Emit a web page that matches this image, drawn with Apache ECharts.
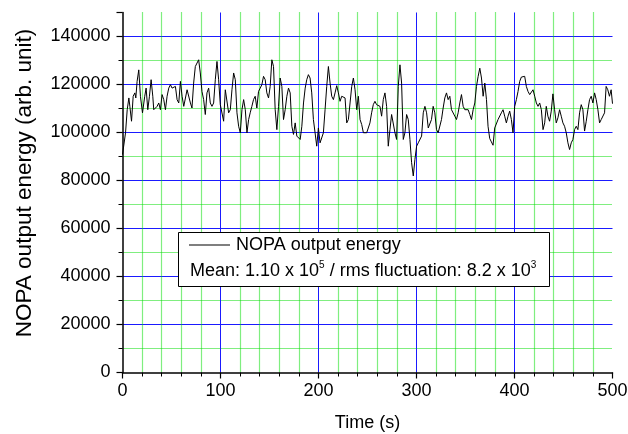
<!DOCTYPE html>
<html>
<head>
<meta charset="utf-8">
<script src="https://cdn.jsdelivr.net/npm/echarts@6/dist/echarts.min.js"></script>
<style>
html,body{margin:0;padding:0;background:#fff;}
#chart{width:628px;height:434px;}
</style>
</head>
<body>
<div id="chart"></div>
<script>
var seriesName = 'NOPA output energy';
var xTitle = 'Time (s)';
var yTitle = 'NOPA output energy (arb. unit)';
var statsText = 'Mean: 1.10 x 10{sup|5} / rms fluctuation: 8.2 x 10{sup|3}';

var time = [0,3.1,4.8,6.5,7.5,9.2,10.9,12.6,13.6,14.9,16.6,18.3,20.4,22.7,24.1,25.8,27.5,29.2,30.9,31.9,35.3,37.0,38.7,40.4,42.1,43.8,45.5,47.2,48.9,50.6,52.3,54.0,55.7,57.4,59.1,60.8,62.5,64.2,65.9,67.6,69.3,70.9,72.6,74.3,76.0,77.7,79.4,81.1,82.8,84.5,86.2,87.9,89.6,91.3,93.0,94.7,96.4,98.1,99.8,101.5,103.2,104.9,106.6,108.3,110.0,111.7,113.4,115.1,116.8,118.5,120.2,121.9,123.6,125.3,127.0,128.7,130.3,132.0,133.7,135.4,137.1,138.8,140.5,142.2,143.9,145.6,147.3,149.0,150.7,152.4,154.1,155.8,157.5,159.2,160.9,162.6,164.3,166.0,167.7,169.4,171.1,172.8,174.5,176.2,177.9,179.6,181.3,183.0,184.7,186.4,188.0,189.7,191.4,193.1,194.8,196.5,198.2,199.9,201.6,203.3,205.0,206.7,208.4,210.1,211.8,213.5,215.2,216.9,218.6,220.3,222.0,223.7,225.4,227.1,228.8,230.5,232.2,233.9,235.6,237.3,239.0,240.7,242.4,244.1,245.8,247.5,249.2,250.8,252.5,254.2,255.9,257.6,259.3,261.0,262.7,264.4,266.1,267.8,269.5,271.2,272.9,274.6,276.3,278.0,279.7,281.4,283.1,284.8,286.5,288.2,289.9,291.6,293.3,295.0,296.7,298.4,300.1,301.8,303.5,305.2,306.9,308.6,310.3,312.0,313.6,315.3,317.0,318.7,320.4,322.1,323.8,325.5,327.2,328.9,330.6,332.3,334.0,335.7,337.4,339.1,340.8,342.5,344.2,345.9,347.6,349.3,351.0,352.7,354.4,356.1,357.8,359.5,361.2,362.9,364.6,366.3,368.0,369.7,371.4,373.0,374.7,376.4,378.1,379.8,381.5,383.2,384.9,386.6,388.3,390.0,391.7,393.4,395.1,396.8,398.5,400.2,401.9,403.6,405.3,407.0,408.7,410.4,412.1,413.8,415.5,417.2,418.9,420.6,422.3,424.0,425.7,427.4,429.1,430.8,432.4,434.1,435.8,437.5,439.2,440.9,442.6,444.3,446.0,447.7,449.4,451.1,452.8,454.5,456.2,457.9,459.6,461.3,463.0,464.7,466.4,468.1,469.8,471.5,473.2,474.9,476.6,478.3,480.0,481.7,483.4,485.1,486.8,488.5,490.2,491.9,493.5,495.2,496.9,498.6,500.0];

var energy = [90800,99900,109500,114400,110900,104700,115100,116500,114400,121300,126100,115100,108200,115100,118500,109500,115100,122000,115100,109500,110900,112300,109500,115800,113700,109500,115100,118500,119900,118500,117800,119200,113700,112300,121300,115100,110900,110200,117800,117800,112300,110200,120600,127500,128200,130300,124800,117100,113700,107500,116500,118500,112300,110900,112300,122000,129600,122000,111600,111600,104700,117800,118500,108200,109500,117800,124800,122000,108200,102600,99900,109500,113700,109500,99900,105400,108200,110900,113700,115100,110200,117100,118500,119900,123400,122000,116500,114400,119200,130300,127500,109500,101200,110900,122700,119200,105400,109500,115100,118500,116500,102600,99200,104000,98500,97800,97100,102600,112300,118500,122000,124100,122700,116500,105400,99900,94300,101900,95700,95000,99900,109500,119200,127500,120600,115100,113700,116500,119500,116500,113000,115100,114400,114400,104000,105400,112300,119200,122700,117800,109500,115100,105400,103300,99900,99200,99900,99900,104000,108200,111600,113000,111600,112300,110900,106800,113700,116500,110900,94300,101200,107500,108200,99900,97100,119200,128200,120600,97100,99900,107500,105400,97100,87400,81900,88800,94300,95700,95000,98500,108200,110900,108200,101900,102600,105400,110900,108200,101200,99900,100600,105400,110200,114400,116500,113700,115100,109500,110200,106800,105400,108200,112300,115800,110900,109500,108900,109500,107500,105400,109500,112300,119200,123400,126800,122700,115100,120600,113700,102600,97500,96100,94700,101900,102600,105400,104700,108200,109500,106800,104000,106800,108900,105400,99900,110900,113700,117100,121300,123100,122700,123400,119200,117100,115800,115100,117800,115100,112300,110900,112300,109500,101200,104000,110900,106800,104700,108900,116100,109500,104000,106100,109500,106800,104000,102600,99900,95700,92900,95700,97100,101200,102600,101200,108200,111600,109500,100600,104700,109500,113700,115100,112300,116500,113700,109500,104000,105400,104700,108200,119200,117800,115100,117800,112000];

var FONT = '"Liberation Sans", Arial, Helvetica, sans-serif';
var chart = echarts.init(document.getElementById('chart'), null, {renderer: 'canvas'});

var points = time.map(function (t, i) { return [t, energy[i]]; });

function majorLine() {
  return {show: true, showMinLine: false, showMaxLine: false, lineStyle: {color: '#1a1aff', width: 1, type: 'solid'}};
}
function minorLine(w) {
  return {show: true, lineStyle: {color: '#00dd00', width: w, type: [1, 1]}};
}

chart.setOption({
  backgroundColor: '#ffffff',
  animation: false,
  grid: {left: 122.5, right: 15.5, top: 12.5, bottom: 61.5, containLabel: false, outerBoundsMode: 'none'},
  legend: {
    show: true,
    data: [{name: seriesName, icon: 'rect'}],
    left: 189,
    top: 236,
    padding: 0,
    itemWidth: 41,
    itemHeight: 1,
    z: 20,
    textStyle: {fontFamily: FONT, fontSize: 18, color: '#000', padding: [0, 0, 0, 1]}
  },
  xAxis: {
    type: 'value',
    min: 0, max: 500, interval: 100,
    name: xTitle,
    nameLocation: 'middle',
    nameGap: 42,
    nameTextStyle: {fontFamily: FONT, fontSize: 18, color: '#000'},
    axisLine: {show: true, onZero: false, lineStyle: {color: '#000', width: 1.5}},
    axisTick: {show: true, inside: false, length: 6, lineStyle: {color: '#000', width: 1.2}},
    minorTick: {show: true, splitNumber: 5, length: 4, lineStyle: {color: '#000', width: 1}},
    axisLabel: {margin: 10, fontFamily: FONT, fontSize: 18, color: '#000'},
    splitLine: majorLine(),
    minorSplitLine: minorLine(1.2)
  },
  yAxis: {
    type: 'value',
    min: 0, max: 150000, interval: 20000,
    name: yTitle,
    nameLocation: 'middle',
    nameGap: 86,
    nameTextStyle: {fontFamily: FONT, fontSize: 22.5, color: '#000', padding: [0, 0, 0, 19]},
    axisLine: {show: true, onZero: false, lineStyle: {color: '#000', width: 1.5}},
    axisTick: {show: true, inside: false, length: 6, lineStyle: {color: '#000', width: 1.2}},
    minorTick: {show: true, splitNumber: 2, length: 4, lineStyle: {color: '#000', width: 1}},
    axisLabel: {
      margin: 12, showMaxLabel: false, fontFamily: FONT, fontSize: 18, color: '#000',
      formatter: function (v) { return String(v); }
    },
    splitLine: majorLine(),
    minorSplitLine: minorLine(1)
  },
  graphic: [
    {
      type: 'rect', z: 10,
      shape: {x: 178.5, y: 232.5, width: 371, height: 54},
      style: {fill: '#ffffff', stroke: '#000000', lineWidth: 1}
    },
    {
      type: 'text', z: 20,
      x: 190, y: 271,
      style: {
        text: statsText,
        fontFamily: FONT, fontSize: 18, fill: '#000',
        verticalAlign: 'middle',
        rich: {
          sup: {fontFamily: FONT, fontSize: 10, fill: '#000', padding: [0, 0, 12, 0]}
        }
      }
    }
  ],
  series: [{
    name: seriesName,
    type: 'line',
    data: points,
    symbol: 'none',
    showSymbol: false,
    lineStyle: {color: '#000', width: 1},
    itemStyle: {color: '#000'},
    z: 5
  }]
});
</script>
</body>
</html>
